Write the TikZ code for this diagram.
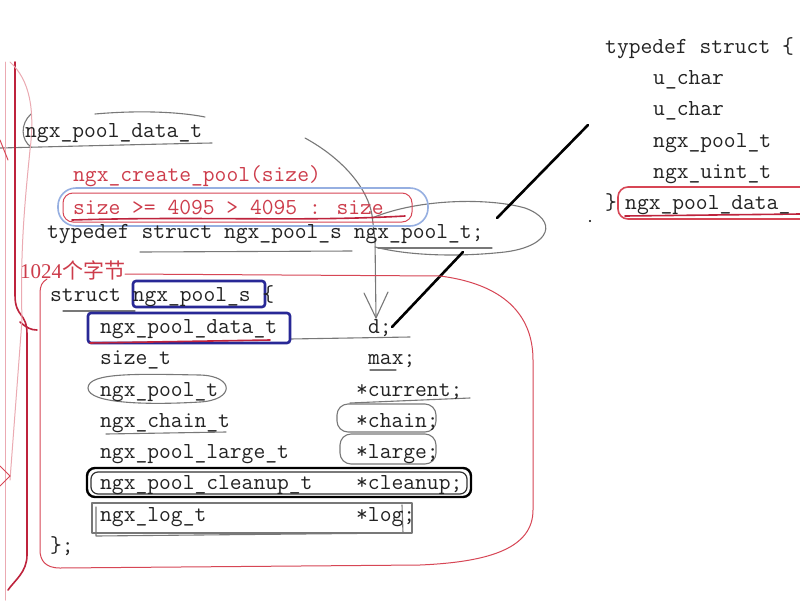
\documentclass[tikz,border=0pt]{standalone}
\usepackage{fontspec}
\newfontfamily\cjk{Noto Sans CJK SC}
\newfontfamily\serifnum{Liberation Serif}
\definecolor{codegray}{RGB}{35,35,35}
\definecolor{codered}{RGB}{205,60,75}
\definecolor{annotgray}{RGB}{120,120,120}
\definecolor{annotred}{RGB}{215,70,85}
\definecolor{darkred}{RGB}{190,35,60}
\definecolor{palepink}{RGB}{235,170,178}
\definecolor{inkblue}{RGB}{40,40,150}
\definecolor{lightblue}{RGB}{150,175,225}
\tikzset{
  code/.style={anchor=base west, inner sep=0pt, font=\fontsize{22.9}{22.9}\selectfont\ttfamily, text=codegray},
  redcode/.style={code, text=codered},
  grayink/.style={draw=annotgray, line width=1.1pt, line cap=round, line join=round},
  redink/.style={draw=annotred, line width=1pt, line cap=round},
  paleink/.style={draw=palepink, line width=1pt, line cap=round},
  darkink/.style={draw=darkred, line width=1.6pt, line cap=round, line join=round},
  blueink/.style={draw=inkblue, line width=2.6pt, rounded corners=3pt},
  blackink/.style={draw=black, line width=2.6pt, line cap=round}
}
\begin{document}
\begin{tikzpicture}[x=1pt,y=-1pt]
\useasboundingbox (0,0) rectangle (800,600);
\fill[white] (0,0) rectangle (800,600);

% ---------- gray annotations ----------
\draw[grayink] (0,148) .. controls (80,146) and (160,144) .. (212,143);
\draw[grayink] (95,114) .. controls (140,110) and (180,112) .. (205,117);
\draw[grayink] (31,114) .. controls (20,124) and (21,140) .. (31,147);
\coordinate (arrowtip) at (376,318);
\draw[grayink] (305,138) .. controls (345,160) and (368,190) .. (372,215) -- (375,240) -- (arrowtip);
\draw[grayink] (364,293) -- (arrowtip) -- (388,292);
\draw[grayink] (372,218) .. controls (420,198) and (490,198) .. (525,208) .. controls (558,220) and (552,246) .. (505,252) .. controls (460,257) and (410,256) .. (375,247);
\draw[grayink] (378,248) -- (492,248);
\draw[grayink] (140,252) -- (352,251);
\draw[grayink] (63,311) -- (135,311);
\draw[grayink] (290,339) -- (410,337);
\draw[grayink] (370,370) -- (396,370);
\draw[grayink] (88,388) .. controls (88,372) and (140,374) .. (200,375) .. controls (235,376) and (235,400) .. (200,402) .. controls (150,405) and (88,404) .. (88,388) -- cycle;
\draw[grayink] (106,434) -- (226,432);
\draw[grayink, rounded corners=11pt] (337,404) rectangle (436,432);
\draw[grayink] (350,403) -- (470,398);
\draw[grayink, rounded corners=11pt] (340,434) rectangle (436,464);
\draw[grayink] (92,503) rectangle (412,533);
\draw[grayink] (96,507) -- (96,536) -- (402,533);
\draw[grayink] (402,505) -- (403,533);

% ---------- black annotations ----------
\draw[draw=black, line width=2.4pt, rounded corners=8pt] (87,468) rectangle (471,497);
\draw[draw=black!80, line width=1.2pt, rounded corners=7pt] (91,472) rectangle (467,494);
\coordinate (semicolon) at (497,218);
\coordinate (upperfree) at (588,125);
\coordinate (lowerstart) at (463,252);
\coordinate (dend) at (392,327);
\draw[blackink] (semicolon) -- (upperfree);
\draw[blackink] (lowerstart) -- (dend);
\fill[black] (590,221) circle (1.2);

% ---------- blue annotations ----------
\draw[draw=lightblue, line width=1.6pt, rounded corners=18pt] (58,188) rectangle (428,226);
\draw[blueink] (133,281) rectangle (265,307);
\draw[blueink] (88,313) rectangle (290,343);

% ---------- red annotations ----------
\draw[redink, rounded corners=10pt] (63,193) rectangle (412,222);
\draw[darkink] (72,220) .. controls (200,216) and (300,222) .. (405,216);
\draw[darkink] (90,343) -- (270,340);
\draw[redink, line width=1.6pt, rounded corners=10pt] (618,187) rectangle (812,219);
\draw[darkink] (625,216) -- (800,214);
\draw[redink] (125,274) -- (440,276) .. controls (510,285) and (533,320) .. (533,360) -- (533,510) .. controls (533,548) and (490,562) .. (420,565) -- (60,568) .. controls (45,568) and (40,560) .. (40,550) -- (40,293) .. controls (40,286) and (42,282) .. (47,279);

% ---------- left edge marks ----------
\draw[darkink] (15,62) -- (15,295) .. controls (15,318) and (27,312) .. (27,334) -- (27,555) .. controls (27,572) and (15,580) .. (8,590);
\draw[darkink] (20,322) .. controls (27,328) and (31,330) .. (37,330);
\draw[paleink] (5,62) -- (5,600);
\draw[paleink] (10,62) .. controls (30,80) and (35,110) .. (30,150) .. controls (25,200) and (20,250) .. (22,320) -- (10,480);
\draw[redink] (0,466) -- (10,476) -- (0,486);
\draw[redink] (0,140) -- (8,160);

% ---------- left text ----------
\node[code] (pooldata) at (25,137) {ngx\_pool\_data\_t};
\node[redcode] (create) at (73,181) {ngx\_create\_pool(size)};
\node[redcode] (sizeexpr) at (73,214) {size >= 4095 > 4095 : size};
\node[code] (typedef) at (47,238) {typedef struct ngx\_pool\_s ngx\_pool\_t;};
\node[anchor=base west, inner sep=0pt, text=codered, font=\fontsize{21}{21}\selectfont] (bytes) at (20,278) {{\serifnum 1024}{\cjk 个字节}};
\node[code] (struct) at (50,301) {struct ngx\_pool\_s \{};
\node[code] (m1) at (100,333) {ngx\_pool\_data\_t};
\node[code] (m2) at (100,364) {size\_t};
\node[code] (m3) at (100,396) {ngx\_pool\_t};
\node[code] (m4) at (100,427) {ngx\_chain\_t};
\node[code] (m5) at (100,458) {ngx\_pool\_large\_t};
\node[code] (m6) at (100,489) {ngx\_pool\_cleanup\_t};
\node[code] (m7) at (100,521) {ngx\_log\_t};
\node[code] (f1) at (368,333) {d;};
\node[code] (f2) at (368,364) {max;};
\node[code] (f3) at (356,396) {*current;};
\node[code] (f4) at (356,427) {*chain;};
\node[code] (f5) at (356,458) {*large;};
\node[code] (f6) at (356,489) {*cleanup;};
\node[code] (f7) at (356,521) {*log;};
\node[code] (close) at (50,552) {\};};

% ---------- right text ----------
\node[code] (rtypedef) at (605,53) {typedef struct \{};
\node[code] (r1) at (653,84) {u\_char};
\node[code] (r2) at (653,115) {u\_char};
\node[code] (r3) at (653,147) {ngx\_pool\_t};
\node[code] (r4) at (653,178) {ngx\_uint\_t};
\node[code] (rclose) at (605,209) {\}};
\node[code] (rname) at (625,209) {ngx\_pool\_data\_};
\end{tikzpicture}
\end{document}
